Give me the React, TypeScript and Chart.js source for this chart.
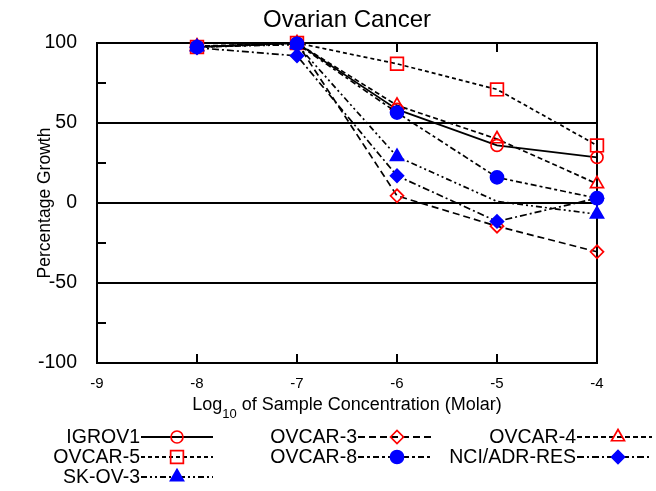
import React, { useEffect, useRef } from "react";
import { Chart, registerables } from "chart.js";

Chart.register(...registerables);

const X_VALUES = [-8, -7, -6, -5, -4];
const X_TICKS = [-9, -8, -7, -6, -5, -4];
const Y_TICKS = [-100, -50, 0, 50, 100];
const Y_GRID = [-50, 0, 50];
const Y_MINOR = [-75, -25, 25, 75];
const X_MINOR = [-8, -7, -6, -5];

const IGROV1 = [97.5, 100, 58.5, 36, 28.5];
const OVCAR3 = [97.5, 100, 4.5, -14.5, -30.5];
const OVCAR4 = [98, 100, 61, 40, 12];
const OVCAR5 = [97.5, 100, 87, 71, 36];
const OVCAR8 = [97.5, 99.5, 56.5, 16, 3];
const NCIADR = [97, 92, 17, -11.5, 3];
const SKOV3 = [97.5, 99, 29, 1, -7];

const SERIES_NAMES = ["IGROV1", "OVCAR-3", "OVCAR-4", "OVCAR-5", "OVCAR-8", "NCI/ADR-RES", "SK-OV-3"];
const SERIES_VALUES = [IGROV1, OVCAR3, OVCAR4, OVCAR5, OVCAR8, NCIADR, SKOV3];

const RED = "#ff0000";
const BLUE = "#0000ff";
const FONT = "'Liberation Sans', Arial, Helvetica, sans-serif";

type Style = { dash: number[]; point: string; r: number; color: string; filled: boolean; z: number; hidden?: number[] };
const STYLES: Style[] = [
  { dash: [], point: "circle", r: 6, color: RED, filled: false, z: 3 },
  { dash: [7, 4], point: "rectRot", r: 6.5, color: RED, filled: false, z: 3 },
  { dash: [5, 3], point: "triangle", r: 7.5, color: RED, filled: false, z: 3 },
  { dash: [4, 3], point: "rect", r: 9, color: RED, filled: false, z: 3 },
  { dash: [6, 3, 3, 3], point: "circle", r: 6.5, color: BLUE, filled: true, z: 1 },
  { dash: [7, 3, 2, 3], point: "rectRot", r: 6.5, color: BLUE, filled: true, z: 0 },
  { dash: [6, 3, 2, 3, 2, 3], point: "triangle", r: 7.5, color: BLUE, filled: true, z: 2, hidden: [3] },
];

const LEGEND_COLS = [
  { textRight: 140, lineEnd: 213, marker: 177 },
  { textRight: 357, lineEnd: 433, marker: 397 },
  { textRight: 576, lineEnd: 652, marker: 618 },
];
const LEGEND_ROWS = [437, 457, 477];

function drawMarker(ctx: CanvasRenderingContext2D, style: Style, x: number, y: number) {
  const r = style.r;
  ctx.save();
  ctx.setLineDash([]);
  ctx.lineWidth = 1.7;
  ctx.strokeStyle = style.color;
  ctx.fillStyle = style.color;
  ctx.beginPath();
  if (style.point === "circle") {
    ctx.arc(x, y, r, 0, Math.PI * 2);
  } else if (style.point === "rect") {
    const s = Math.SQRT1_2 * r;
    ctx.rect(x - s, y - s, 2 * s, 2 * s);
  } else if (style.point === "rectRot") {
    ctx.moveTo(x - r, y);
    ctx.lineTo(x, y - r);
    ctx.lineTo(x + r, y);
    ctx.lineTo(x, y + r);
    ctx.closePath();
  } else if (style.point === "triangle") {
    let a = 0;
    ctx.moveTo(x + Math.sin(a) * r, y - Math.cos(a) * r);
    a += (2 * Math.PI) / 3;
    ctx.lineTo(x + Math.sin(a) * r, y - Math.cos(a) * r);
    a += (2 * Math.PI) / 3;
    ctx.lineTo(x + Math.sin(a) * r, y - Math.cos(a) * r);
    ctx.closePath();
  }
  if (style.filled) ctx.fill();
  ctx.stroke();
  ctx.restore();
}

const framePlugin = {
  id: "frame",
  beforeDatasetsDraw(chart: any) {
    const { ctx, chartArea } = chart;
    const xs = chart.scales.x;
    const ys = chart.scales.y;
    const { left, right, top, bottom } = chartArea;
    ctx.save();
    ctx.strokeStyle = "#000";
    ctx.lineWidth = 2;
    ctx.setLineDash([]);
    ctx.beginPath();
    for (const v of Y_GRID) {
      const y = Math.round(ys.getPixelForValue(v));
      ctx.moveTo(left, y);
      ctx.lineTo(right, y);
    }
    for (const v of Y_MINOR) {
      const y = Math.round(ys.getPixelForValue(v));
      ctx.moveTo(left, y);
      ctx.lineTo(left + 9, y);
    }
    for (const v of X_MINOR) {
      const x = Math.round(xs.getPixelForValue(v));
      ctx.moveTo(x, bottom);
      ctx.lineTo(x, bottom - 9);
      ctx.moveTo(x, top);
      ctx.lineTo(x, top + 9);
    }
    ctx.stroke();
    ctx.strokeRect(left, top, right - left, bottom - top);
    ctx.restore();
  },
  afterDraw(chart: any) {
    const { ctx, chartArea } = chart;
    ctx.save();
    ctx.fillStyle = "#000";
    // x axis title with subscript
    const cx = (chartArea.left + chartArea.right) / 2;
    const mainFont = `18px ${FONT}`;
    const subFont = `13px ${FONT}`;
    const p1 = "Log";
    const p2 = "10";
    const p3 = " of Sample Concentration (Molar)";
    ctx.font = mainFont;
    const w1 = ctx.measureText(p1).width;
    const w3 = ctx.measureText(p3).width;
    ctx.font = subFont;
    const w2 = ctx.measureText(p2).width;
    let x = cx - (w1 + w2 + w3) / 2;
    ctx.textBaseline = "alphabetic";
    ctx.textAlign = "left";
    ctx.font = mainFont;
    ctx.fillText(p1, x, 410);
    x += w1;
    ctx.font = subFont;
    ctx.fillText(p2, x, 418);
    x += w2;
    ctx.font = mainFont;
    ctx.fillText(p3, x, 410);

    // legend
    ctx.font = `19.5px ${FONT}`;
    ctx.textAlign = "right";
    ctx.textBaseline = "middle";
    SERIES_NAMES.forEach((name, i) => {
      const col = LEGEND_COLS[i % 3];
      const y = LEGEND_ROWS[Math.floor(i / 3)];
      const st = STYLES[i];
      ctx.fillStyle = "#000";
      ctx.fillText(name, col.textRight, y + 1);
      ctx.save();
      ctx.strokeStyle = "#000";
      ctx.lineWidth = 2;
      ctx.setLineDash(st.dash);
      ctx.beginPath();
      ctx.moveTo(col.textRight + 1, y);
      ctx.lineTo(col.lineEnd, y);
      ctx.stroke();
      ctx.restore();
      drawMarker(ctx, st, col.marker, y);
    });
    ctx.restore();
  },
};

export default function App() {
  const ref = useRef<HTMLCanvasElement | null>(null);
  useEffect(() => {
    if (!ref.current) return;
    const datasets = SERIES_NAMES.map((name, i) => {
      const st = STYLES[i];
      return {
        label: name,
        data: X_VALUES.map((x, j) => ({ x, y: SERIES_VALUES[i][j] })),
        order: st.z,
        showLine: true,
        clip: false,
        borderColor: "#000",
        borderWidth: 1.7,
        borderDash: st.dash,
        fill: false,
        tension: 0,
        pointStyle: st.point,
        pointRadius: X_VALUES.map((_, j) => (st.hidden && st.hidden.includes(j) ? 0 : st.r)),
        pointBorderColor: st.color,
        pointBackgroundColor: st.filled ? st.color : "rgba(0,0,0,0)",
        pointBorderWidth: 1.7,
      };
    });
    const chart = new Chart(ref.current, {
      type: "line",
      data: { datasets },
      plugins: [framePlugin],
      options: {
        responsive: false,
        animation: false,
        devicePixelRatio: 1,
        layout: { padding: { left: 0, right: 59, top: 0, bottom: 0 } },
        plugins: {
          legend: { display: false },
          tooltip: { enabled: false },
          title: {
            display: true,
            fullSize: false,
            text: "Ovarian Cancer",
            color: "#000",
            font: { family: FONT, size: 24, weight: "normal" },
            padding: { top: 6, bottom: 8.2 },
          },
        },
        scales: {
          x: {
            type: "linear",
            min: -9,
            max: -4,
            afterBuildTicks: (s: any) => {
              s.ticks = X_TICKS.map((v) => ({ value: v }));
            },
            ticks: {
              color: "#000",
              font: { family: FONT, size: 15 },
              padding: 12,
              maxRotation: 0,
              callback: (v: any) => String(v),
            },
            grid: { display: false, drawTicks: false },
            border: { display: false },
            afterFit: (s: any) => {
              s.height = 128;
            },
          },
          y: {
            type: "linear",
            min: -100,
            max: 100,
            afterBuildTicks: (s: any) => {
              s.ticks = Y_TICKS.map((v) => ({ value: v }));
            },
            ticks: {
              color: "#000",
              font: { family: FONT, size: 19.5 },
              padding: 20,
              callback: (v: any) => String(v),
            },
            grid: { display: false, drawTicks: false },
            border: { display: false },
            title: {
              display: true,
              text: "Percentage Growth",
              color: "#000",
              font: { family: FONT, size: 17.5 },
              padding: { top: 35, bottom: 0 },
            },
            afterFit: (s: any) => {
              s.width = 97;
            },
          },
        },
      } as any,
    });
    return () => chart.destroy();
  }, []);
  return (
    <div style={{ position: "fixed", left: 0, top: 0, width: 656, height: 491, background: "#fff" }}>
      <canvas ref={ref} width={656} height={491} />
    </div>
  );
}
